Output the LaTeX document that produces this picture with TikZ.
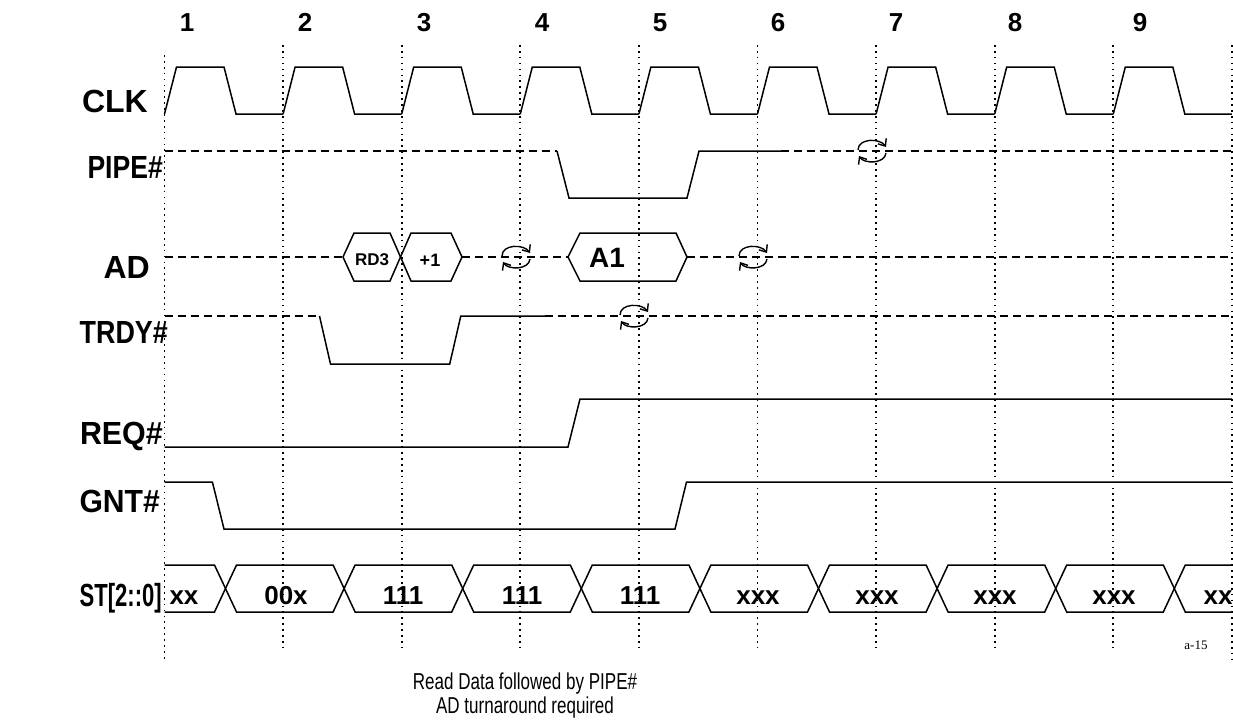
\documentclass[tikz,border=0pt]{standalone}
\usepackage{fontspec}
\setmainfont{Liberation Sans}
\newfontfamily\tagfont{Liberation Serif}
\newfontfamily\capfont[FakeStretch=0.74]{Liberation Sans}
\usetikzlibrary{arrows, arrows.meta}

\tikzstyle{sig} = [line width=1.5pt, line join=miter]
\tikzstyle{float} = [line width=1.5pt, dash pattern=on 8pt off 5pt]
\tikzstyle{grid} = [line width=1.7pt, dash pattern=on 1.7pt off 4.2pt]
\tikzstyle{signame} = [font=\fontsize{32}{32}\selectfont\bfseries, anchor=base east, inner sep=0pt]
\tikzstyle{clkno} = [font=\fontsize{26}{26}\selectfont\bfseries, anchor=base, inner sep=0pt]
\tikzstyle{busval} = [font=\fontsize{26}{26}\selectfont\bfseries, anchor=base, inner sep=0pt]
\tikzstyle{tarrow} = [line width=1.4pt, -{Straight Barb[length=6pt,width=10pt]}]
\tikzset{turnaround/.pic={
  \draw[tarrow] (-14,-1) .. controls (-14,-13) and (8,-13) .. (14,-4);
  \draw[tarrow] (14,2) .. controls (13,13) and (-8,13) .. (-13,5);
}}

\begin{document}
\begin{tikzpicture}[x=1pt, y=-1pt]
  \useasboundingbox (0,0) rectangle (1233,725);

  % clock numbers
  \node[clkno] (n1) at (187,32) {1};
  \node[clkno] (n2) at (305,32) {2};
  \node[clkno] (n3) at (424,32) {3};
  \node[clkno] (n4) at (542,32) {4};
  \node[clkno] (n5) at (660,32) {5};
  \node[clkno] (n6) at (778,32) {6};
  \node[clkno] (n7) at (896,32) {7};
  \node[clkno] (n8) at (1015,32) {8};
  \node[clkno] (n9) at (1140,32) {9};

  % signal names
  \node[signame] (clk) at (148,112) {CLK};
  \node[signame] (pipe) at (163,178) {\scalebox{0.83}[1]{PIPE\#}};
  \node[signame] (ad) at (150,278) {AD};
  \node[signame] (trdy) at (168,343) {\scalebox{0.84}[1]{TRDY\#}};
  \node[signame] (req) at (163,444) {\scalebox{0.95}[1]{REQ\#}};
  \node[signame] (gnt) at (160,512) {\scalebox{0.94}[1]{GNT\#}};
  \node[signame] (st) at (162,606) {\scalebox{0.69}[1]{ST[2::0]}};

  % clock edges
  \draw[grid] (164.5,55) -- (164.5,662);
  \draw[grid] (283.1,45) -- (283.1,648);
  \draw[grid] (401.7,45) -- (401.7,648);
  \draw[grid] (520.3,45) -- (520.3,648);
  \draw[grid] (638.9,45) -- (638.9,648);
  \draw[grid] (757.5,45) -- (757.5,648);
  \draw[grid] (876.1,45) -- (876.1,648);
  \draw[grid] (994.7,45) -- (994.7,648);
  \draw[grid] (1113.3,45) -- (1113.3,648);
  \draw[grid] (1231.9,45) -- (1231.9,662);

  % CLK
  \foreach \x in {164.5,283.1,401.7,520.3,638.9,757.5,876.1,994.7,1113.3}
    \draw[sig] (\x,114) -- ++(12,-47) -- ++(47.5,0) -- ++(12,47) -- ++(47.1,0);

  % PIPE#
  \draw[float] (164.5,151) -- (557,151);
  \draw[sig] (557,151) -- (569,198) -- (687,198) -- (699,151) -- (781,151);
  \draw[float] (781,151) -- (1232,151);
  \pic at (872,151) {turnaround};

  % AD
  \draw[float] (164.5,257) -- (343,257);
  \draw[sig] (343,257) -- (354,233) -- (390,233) -- (400.5,257) -- (390,281) -- (354,281) -- cycle;
  \draw[sig] (400.5,257) -- (411,233) -- (451,233) -- (462,257) -- (451,281) -- (411,281) -- cycle;
  \draw[float] (462,257) -- (568,257);
  \draw[sig] (568,257) -- (580,233) -- (676,233) -- (687,257) -- (676,281) -- (580,281) -- cycle;
  \draw[float] (687,257) -- (1232,257);
  \node[font=\fontsize{17}{17}\selectfont\bfseries, anchor=base, inner sep=0pt] (rd3) at (372,265) {RD3};
  \node[font=\fontsize{18}{18}\selectfont\bfseries, anchor=base, inner sep=0pt] (plus1) at (430,266) {+1};
  \node[font=\fontsize{28}{28}\selectfont\bfseries, anchor=base, inner sep=0pt] (a1) at (607,267) {A1};
  \pic at (516,257) {turnaround};
  \pic at (753,257) {turnaround};

  % TRDY#
  \draw[float] (164.5,316) -- (319.5,316);
  \draw[sig] (319.5,316) -- (330.5,364) -- (449.7,364) -- (460.8,316) -- (545,316);
  \draw[float] (545,316) -- (1232,316);
  \pic at (634,316) {turnaround};

  % REQ#
  \draw[sig] (164.5,447) -- (568,447) -- (580,399) -- (1232,399);

  % GNT#
  \draw[sig] (164.5,482) -- (212.4,482) -- (224,529) -- (675,529) -- (686.5,482) -- (1232,482);

  % ST[2::0]
  \draw[sig] (164.5,565) -- (214.5,565) -- (236.5,612) -- (333.1,612) -- (355.1,565) -- (451.7,565)
    -- (473.7,612) -- (570.3,612) -- (592.3,565) -- (688.9,565) -- (710.9,612) -- (807.5,612)
    -- (829.5,565) -- (926.1,565) -- (948.1,612) -- (1044.7,612) -- (1066.7,565) -- (1163.3,565)
    -- (1185.3,612) -- (1232,612);
  \draw[sig] (164.5,612) -- (214.5,612) -- (236.5,565) -- (333.1,565) -- (355.1,612) -- (451.7,612)
    -- (473.7,565) -- (570.3,565) -- (592.3,612) -- (688.9,612) -- (710.9,565) -- (807.5,565)
    -- (829.5,612) -- (926.1,612) -- (948.1,565) -- (1044.7,565) -- (1066.7,612) -- (1163.3,612)
    -- (1185.3,565) -- (1232,565);
  \node[busval] (st0) at (184,604) {xx};
  \node[busval] (st1) at (286,604) {00x};
  \node[busval] (st2) at (403,604) {111};
  \node[busval] (st3) at (522,604) {111};
  \node[busval] (st4) at (640,604) {111};
  \node[busval] (st5) at (758,604) {xxx};
  \node[busval] (st6) at (877,604) {xxx};
  \node[busval] (st7) at (995,604) {xxx};
  \node[busval] (st8) at (1114,604) {xxx};
  \node[busval] (st9) at (1218,604) {xx};

  \node[font=\tagfont\fontsize{13}{13}\selectfont] (tag) at (1196,645) {a-15};
  \node[font=\capfont\fontsize{23}{23}\selectfont, align=center] (caption) at (525,696)
    {Read Data followed by PIPE\#\\[1pt]AD turnaround required};
\end{tikzpicture}
\end{document}
